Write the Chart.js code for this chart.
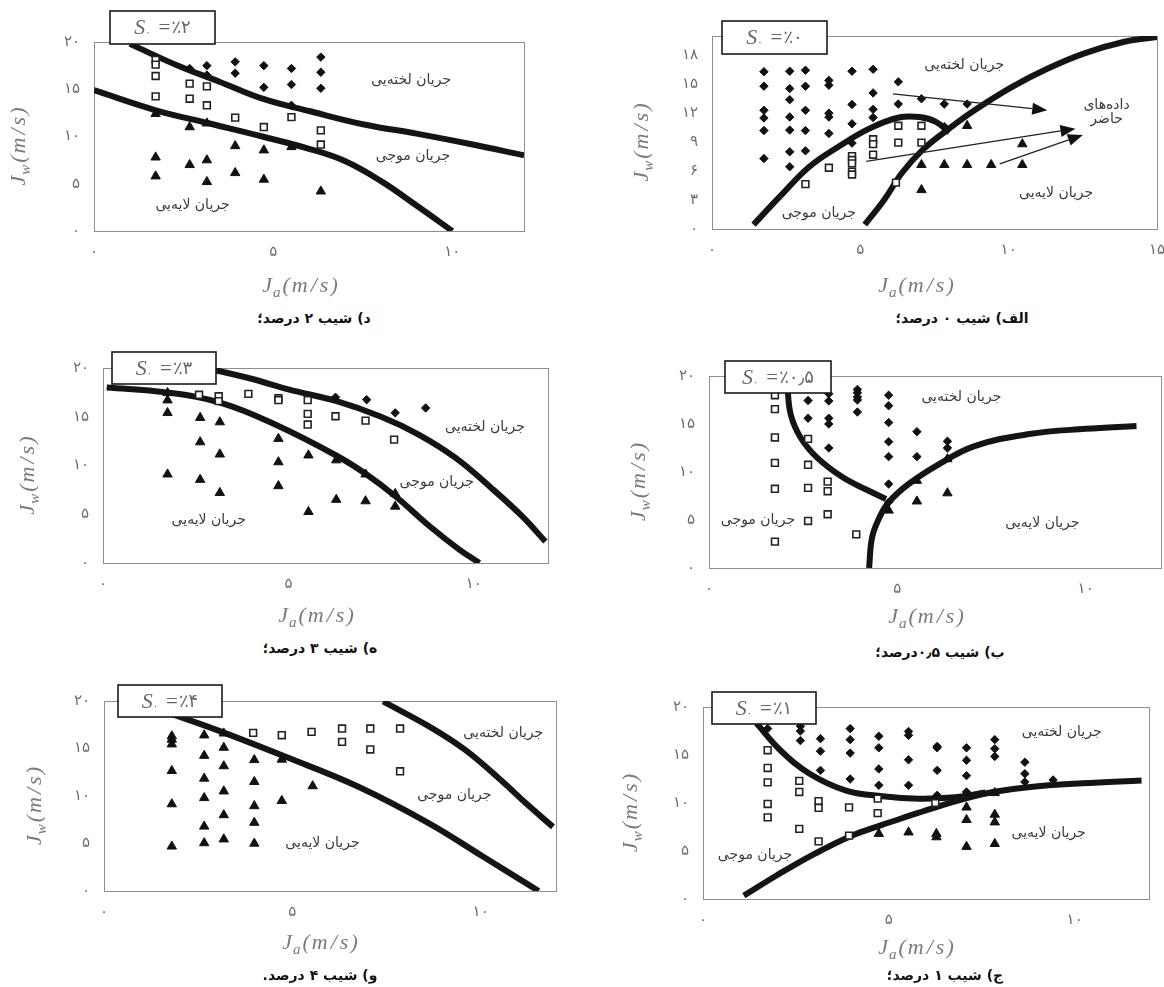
<!DOCTYPE html>
<html>
<head>
<meta charset="utf-8">
<script src="https://cdn.jsdelivr.net/npm/chart.js@4.4.1/dist/chart.umd.min.js"></script>
<style>
  body { margin: 0; background: #fff; width: 1164px; height: 987px; position: relative; overflow: hidden; }
  canvas { position: absolute; }
  .cap { position: absolute; width: 240px; text-align: center; direction: rtl;
         font: bold 14px 'DejaVu Sans', sans-serif; color: #111; line-height: 16px; }
</style>
</head>
<body>
<script>
// ---- data (Ja, Jw in m/s) ----
var xTicks12 = [0, 5, 10];
var xTicks15 = [0, 5, 10, 15];
var yTicks5 = [0, 5, 10, 15, 20];
var yTicks3 = [0, 3, 6, 9, 12, 15, 18];

// الف) slope 0 %
var slugA = [[1.75,16.3],[1.75,14.8],[1.75,12.3],[1.75,11.5],[1.75,10.2],[1.75,7.3],
  [2.62,16.35],[2.62,14.55],[2.62,13.4],[2.62,11.6],[2.62,10.25],[2.62,8.0],[2.62,6.45],
  [3.15,16.45],[3.15,14.8],[3.15,12.3],[3.15,10.2],[3.15,8.1],
  [3.94,15.4],[3.94,14.9],[3.94,12.0],[3.94,11.6],[3.94,9.9],
  [4.72,16.35],[4.72,12.9],[4.72,10.9],[4.72,8.9],
  [5.43,16.55],[5.43,14.1],[5.43,12.4],[5.43,11.55],
  [6.28,15.25],[6.28,12.95],[7.06,13.5],[7.83,12.95],[7.83,10.6],[8.6,12.95]];
var wavyA = [[5.43,9.3],[5.43,8.8],[6.28,10.7],[7.06,10.7],[6.28,8.95],[7.06,8.95],[5.43,7.7],
  [4.72,7.55],[4.72,7.15],[4.72,6.8],[4.72,5.95],[4.72,5.65],[3.94,6.35],[3.15,4.65],[6.2,4.8]];
var stratA = [[8.6,10.7],[10.46,8.8],[7.06,6.65],[7.83,6.65],[8.6,6.65],[9.41,6.65],[10.46,6.65],[7.06,4.05]];
var curveA1 = [[1.4,0.45],[2.3,3.4],[3.3,6.5],[4.3,8.6],[5.3,10.4],[6.3,11.55],[7.0,11.6],[7.55,11.1],[8.0,10.0]];
var curveA2 = [[5.15,0.45],[5.8,3.0],[6.4,5.8],[7.1,8.2],[7.95,10.3],[8.85,12.3],[10.1,14.7],[11.3,16.6],[12.55,18.2],[13.9,19.4],[15,19.9]];
var arrowsA = [[6.1,14.0,11.3,12.3],[5.2,7.0,12.25,10.4],[9.7,6.75,12.5,9.75]];

// ب) slope 0.5 %
var slugB = [[2.63,17.45],[2.63,15.6],[3.18,18.15],[3.18,17.4],[3.18,15.6],[3.18,15.0],[3.18,12.5],
  [3.94,18.6],[3.94,18.25],[3.94,17.8],[3.94,17.5],[3.94,16.25],
  [4.77,18.0],[4.77,16.9],[4.77,15.15],[4.77,13.15],[4.77,11.6],[4.77,8.75],[4.77,6.85],
  [5.52,14.2],[5.52,11.6],[6.33,13.2],[6.33,12.5]];
var wavyB = [[1.75,18.0],[1.75,16.55],[1.75,13.6],[1.75,10.95],[1.75,8.25],[1.75,2.75],
  [2.63,13.45],[2.63,10.75],[2.63,8.35],[2.63,4.9],[3.15,9.0],[3.15,8.0],[3.15,5.6],[3.91,3.5]];
var stratB = [[4.77,6.0],[5.52,9.1],[5.52,6.95],[6.33,11.35],[6.33,7.8]];
var curveB1 = [[2.08,20.2],[2.09,18.6],[2.17,16.0],[2.43,13.6],[2.87,11.5],[3.55,9.45],[4.24,8.05],[4.7,7.2]];
var curveB2 = [[4.25,0],[4.33,3.2],[4.53,5.3],[4.77,6.85],[5.3,8.75],[6.1,10.8],[7.05,12.7],[8.5,13.95],[10.0,14.5],[11.35,14.8]];

// ج) slope 1 %
var slugC = [[1.74,17.75],[2.62,18.0],[2.62,17.5],[2.62,16.5],[3.16,16.7],[3.16,15.4],[3.16,13.4],
  [3.96,17.75],[3.96,16.6],[3.96,15.2],[3.96,12.5],[4.73,16.95],[4.73,15.75],[4.73,13.55],[4.73,11.85],
  [5.53,17.45],[5.53,17.05],[5.53,14.5],[5.53,11.85],[6.3,15.9],[6.3,15.75],[6.3,13.4],[6.3,10.8],
  [7.09,15.75],[7.09,14.45],[7.09,12.85],[7.09,11.15],[7.85,16.6],[7.85,15.65],[7.85,14.85],
  [8.66,14.25],[8.66,13.05],[8.66,12.2],[9.42,12.4]];
var wavyC = [[1.74,15.5],[1.74,13.65],[1.74,12.15],[1.74,9.9],[1.74,8.5],[2.59,12.3],[2.59,11.15],[2.59,7.3],
  [3.11,10.2],[3.11,9.5],[3.11,6.0],[3.93,9.55],[3.93,6.6],[4.7,10.45],[4.7,8.95],[6.25,10.0]];
var stratC = [[4.73,6.8],[5.53,6.95],[6.28,6.8],[6.28,6.45],[7.09,9.55],[7.09,8.25],[7.09,5.45],
  [7.85,11.05],[7.85,8.8],[7.85,8.0],[7.85,5.75]];
var curveC1 = [[1.44,18.3],[2.08,15.5],[2.87,13.05],[3.85,11.3],[4.83,10.7],[5.81,10.45],[6.79,10.6],[7.6,11.1]];
var curveC2 = [[1.1,0.35],[2.0,2.5],[3.0,4.7],[4.0,6.6],[4.8,7.7],[5.5,8.6],[6.3,9.6],[7.1,10.5],[7.8,11.15],[8.75,11.65],[10.2,12.05],[11.8,12.35]];

// د) slope 2 %
var slugD = [[2.67,17.2],[3.15,17.5],[3.15,16.5],[3.94,17.9],[3.94,16.7],[4.74,17.5],[4.74,15.2],
  [5.51,17.2],[5.51,15.5],[5.51,13.3],[6.33,18.4],[6.33,16.8],[6.33,15.1]];
var wavyD = [[1.72,18.1],[1.72,17.6],[1.72,16.4],[1.72,14.25],[2.67,15.6],[2.67,14.0],[3.15,15.3],[3.15,13.3],
  [3.94,12.0],[4.74,11.0],[5.51,12.05],[6.33,10.65],[6.33,9.15]];
var stratD = [[1.72,12.4],[1.72,7.8],[1.72,5.8],[2.67,11.0],[2.67,7.0],[3.15,11.4],[3.15,7.5],[3.15,5.2],
  [3.94,9.0],[3.94,6.15],[4.74,8.55],[4.74,5.45],[5.51,8.9],[6.33,4.2]];
var curveD1 = [[1.0,19.8],[2.4,17.4],[3.5,15.8],[4.7,14.0],[6.0,12.7],[7.5,11.3],[9.0,10.3],[10.5,9.2],[12.0,8.0]];
var curveD2 = [[0,14.9],[1.7,12.8],[3.2,11.4],[4.7,10.0],[6.0,8.7],[7.0,7.4],[8.0,5.3],[9.0,2.7],[10.0,0]];

// ه) slope 3 %
var slugE = [[6.27,17.0],[7.11,16.75],[7.88,15.4],[8.7,15.9]];
var wavyE = [[2.59,17.25],[3.12,17.1],[3.12,16.6],[3.92,17.35],[4.73,16.9],[4.73,16.7],[5.52,16.7],[5.52,15.3],[5.52,14.2],
  [6.27,15.05],[7.08,14.6],[7.85,12.65]];
var stratE = [[1.74,17.45],[1.74,16.7],[1.74,15.4],[1.74,9.1],[2.62,14.9],[2.62,12.4],[2.62,8.55],
  [3.15,14.45],[3.15,11.15],[3.15,7.2],[4.73,12.75],[4.73,10.35],[4.73,7.9],[5.54,11.05],[5.54,5.25],
  [6.29,10.55],[6.29,6.5],[7.08,9.1],[7.08,6.35],[7.88,7.1],[7.88,5.8]];
var curveE1 = [[0.1,18.0],[1.7,17.5],[3.2,16.4],[4.7,14.1],[6.3,11.0],[7.1,9.1],[7.9,6.8],[8.8,3.8],[9.6,1.4],[10.15,0]];
var curveE2 = [[2.2,20.4],[3.0,19.8],[4.0,18.9],[5.0,17.8],[6.3,16.6],[7.5,15.0],[8.5,13.2],[9.5,10.8],[10.5,7.6],[11.3,4.8],[11.93,2.2]];

// و) slope 4 %
var stratF = [[1.8,16.3],[1.8,15.95],[1.8,15.45],[1.8,12.65],[1.8,9.15],[1.8,4.7],
  [2.66,16.4],[2.66,14.25],[2.66,11.85],[2.66,9.8],[2.66,6.8],[2.66,5.05],
  [3.18,16.6],[3.18,15.1],[3.18,13.15],[3.18,10.5],[3.18,8.0],[3.18,5.45],
  [3.99,13.8],[3.99,11.5],[3.99,8.95],[3.99,7.2],[3.99,5.0],[4.72,13.85],[4.72,9.5],[5.54,11.05]];
var wavyF = [[3.96,16.65],[4.72,16.4],[5.51,16.75],[6.32,17.1],[7.07,17.1],[7.86,17.1],[6.32,15.7],[7.07,14.9],[7.86,12.6]];
var slugF = [];
var curveF1 = [[1.5,19.0],[2.04,18.3],[3.13,16.75],[4.84,14.1],[6.74,11.0],[8.64,7.1],[10.07,3.6],[11.54,0]];
var curveF2 = [[7.41,19.95],[8.64,17.3],[9.59,14.85],[10.54,11.65],[11.21,9.2],[11.92,6.75]];

var SLUG = 'جریان لخته\u200Cیی', WAVY = 'جریان موجی', STRAT = 'جریان لایه\u200Cیی';
var labelsA = [[SLUG,8.5,17.0],[WAVY,3.6,1.65],[STRAT,11.6,3.7],['داده\u200Cهای',13.3,12.8],['حاضر',13.3,11.4]];
var labelsB = [[SLUG,6.7,17.75],[WAVY,1.3,4.95],[STRAT,8.85,4.65]];
var labelsC = [[SLUG,9.65,17.4],[WAVY,1.4,4.5],[STRAT,9.3,6.8]];
var labelsD = [[SLUG,8.85,15.95],[WAVY,8.9,7.85],[STRAT,2.75,2.7]];
var labelsE = [[SLUG,10.3,13.95],[WAVY,9.0,8.3],[STRAT,2.85,4.4]];
var labelsF = [[SLUG,10.6,16.6],[WAVY,9.3,10.1],[STRAT,5.8,5.05]];

// ---- layout of the six panels (page px) ----
var PAD_L = 86, PAD_T = 36, PAD_R = 24, PAD_B = 70;
var panels = [
  { area:[712,36,1157,229], xMax:15, xTicks:xTicks15, yTicks:yTicks3, slope:'۰', box:[10,-15,105,33],
    slug:slugA, wavy:wavyA, strat:stratA, curves:[curveA1,curveA2], labels:labelsA, arrows:arrowsA,
    jw:-71, ja:[916,56], cap:[962,89,'الف) شیب ۰ درصد؛'] },
  { area:[709,376,1161,568], xMax:12, xTicks:xTicks12, yTicks:yTicks5, slope:'۰٫۵', box:[16,-15,106,32],
    slug:slugB, wavy:wavyB, strat:stratB, curves:[curveB1,curveB2], labels:labelsB,
    jw:-71, ja:[926,48], cap:[940,84,'ب) شیب ۰٫۵درصد؛'] },
  { area:[703,707,1149,899], xMax:12, xTicks:xTicks12, yTicks:yTicks5, slope:'۱', box:[9,-15,104,32],
    slug:slugC, wavy:wavyC, strat:stratC, curves:[curveC1,curveC2], labels:labelsC,
    jw:-73, ja:[916,48], cap:[945,76,'ج) شیب ۱ درصد؛'] },
  { area:[94,42,524,231], xMax:12, xTicks:xTicks12, yTicks:yTicks5, slope:'۲', box:[16,-31,105,33],
    slug:slugD, wavy:wavyD, strat:stratD, curves:[curveD1,curveD2], labels:labelsD,
    jw:-76, ja:[300,54], cap:[314,87,'د) شیب ۲ درصد؛'] },
  { area:[103,368,548,563], xMax:12, xTicks:xTicks12, yTicks:yTicks5, slope:'۳', box:[9,-16,104,32],
    slug:slugE, wavy:wavyE, strat:stratE, curves:[curveE1,curveE2], labels:labelsE,
    jw:-76, ja:[316,52], cap:[320,85,'ه) شیب ۳ درصد؛'] },
  { area:[104,701,556,891], xMax:12, xTicks:xTicks12, yTicks:yTicks5, slope:'۴', box:[14,-16,104,32],
    slug:slugF, wavy:wavyF, strat:stratF, curves:[curveF1,curveF2], labels:labelsF,
    jw:-70, ja:[320,51], cap:[320,84,'و) شیب ۴ درصد.'] }
];

var DIG = '۰۱۲۳۴۵۶۷۸۹';
function fa(v) { return String(v).replace(/\d/g, function (d) { return DIG[d]; }); }
function pts(arr) { return arr.map(function (p) { return { x: p[0], y: p[1] }; }); }

// draw a run of [text, font, dy, gap] pieces starting at x
function drawPieces(ctx, pieces, x, y) {
  pieces.forEach(function (p) {
    ctx.font = p[1];
    ctx.fillText(p[0], x, y + (p[2] || 0));
    x += ctx.measureText(p[0]).width + (p[3] || 0);
  });
}
function piecesWidth(ctx, pieces) {
  var w = 0;
  pieces.forEach(function (p) { ctx.font = p[1]; w += ctx.measureText(p[0]).width + (p[3] || 0); });
  return w;
}
function axisTitle(sub) {
  var f = 'italic 22px "Liberation Serif", serif';
  return [['J', f, 0, 1], [sub, 'italic 15px "Liberation Serif", serif', 5, 2], ['(', f, 0, 2], ['m', f, 0, 3], ['/', f, 0, 3], ['s', f, 0, 2], [')', f]];
}

var decor = {
  id: 'decor',
  beforeDatasetsDraw: function (chart) {
    var a = chart.chartArea, ctx = chart.ctx;
    ctx.save();
    ctx.strokeStyle = '#8e8e8e';
    ctx.lineWidth = 1;
    ctx.strokeRect(Math.round(a.left) + 0.5, Math.round(a.top) + 0.5, Math.round(a.right - a.left), Math.round(a.bottom - a.top));
    ctx.restore();
  },
  afterDatasetsDraw: function (chart) {
    var p = chart.canvas.$panel, ctx = chart.ctx, a = chart.chartArea;
    if (!p) return;
    var xs = chart.scales.x, ys = chart.scales.y;
    ctx.save();
    // region labels
    ctx.fillStyle = '#3a3a3a';
    ctx.font = '14px "DejaVu Sans", sans-serif';
    ctx.textAlign = 'center';
    ctx.textBaseline = 'middle';
    ctx.direction = 'rtl';
    p.labels.forEach(function (l) {
      ctx.fillText(l[0], xs.getPixelForValue(l[1]), ys.getPixelForValue(l[2]));
    });
    ctx.direction = 'ltr';
    // arrows
    (p.arrows || []).forEach(function (r) {
      var x1 = xs.getPixelForValue(r[0]), y1 = ys.getPixelForValue(r[1]);
      var x2 = xs.getPixelForValue(r[2]), y2 = ys.getPixelForValue(r[3]);
      var ang = Math.atan2(y2 - y1, x2 - x1), hl = 15, hw = 6;
      ctx.strokeStyle = '#222';
      ctx.lineWidth = 1.3;
      ctx.beginPath();
      ctx.moveTo(x1, y1);
      ctx.lineTo(x2 - hl * Math.cos(ang), y2 - hl * Math.sin(ang));
      ctx.stroke();
      ctx.fillStyle = '#111';
      ctx.beginPath();
      ctx.moveTo(x2, y2);
      ctx.lineTo(x2 - hl * Math.cos(ang) + hw * Math.sin(ang), y2 - hl * Math.sin(ang) - hw * Math.cos(ang));
      ctx.lineTo(x2 - hl * Math.cos(ang) - hw * Math.sin(ang), y2 - hl * Math.sin(ang) + hw * Math.cos(ang));
      ctx.closePath();
      ctx.fill();
    });
    // slope box
    var bx = a.left + p.box[0], by = a.top + p.box[1], bw = p.box[2], bh = p.box[3];
    ctx.fillStyle = '#fff';
    ctx.fillRect(bx, by, bw, bh);
    ctx.strokeStyle = '#1a1a1a';
    ctx.lineWidth = 1.6;
    ctx.strokeRect(bx, by, bw, bh);
    var sf = 'italic 22px "Liberation Serif", serif';
    var box = [['S', sf, 0, 0], ['۰', '10px "DejaVu Sans", sans-serif', 4, 8], ['=', '21px "Liberation Serif", serif', 0, 1],
      ['٪' + p.slope, '18px "DejaVu Sans", sans-serif']];
    ctx.fillStyle = '#666';
    ctx.textAlign = 'left';
    ctx.textBaseline = 'middle';
    drawPieces(ctx, box, bx + (bw - piecesWidth(ctx, box)) / 2, by + bh / 2 + 1);
    // axis titles
    ctx.fillStyle = '#7a7a7a';
    ctx.textBaseline = 'alphabetic';
    var ja = axisTitle('a');
    var ox = chart.canvas.offsetLeft;
    drawPieces(ctx, ja, p.ja[0] - ox - piecesWidth(ctx, ja) / 2, a.bottom + p.ja[1] + 7);
    var jw = axisTitle('w');
    ctx.translate(a.left + p.jw + 7, (a.top + a.bottom) / 2 + 10);
    ctx.rotate(-Math.PI / 2);
    drawPieces(ctx, jw, -piecesWidth(ctx, jw) / 2, 0);
    ctx.restore();
  }
};

panels.forEach(function (p) {
  var L = p.area[0], T = p.area[1], R = p.area[2], B = p.area[3];
  var cv = document.createElement('canvas');
  cv.width = R - L + PAD_L + PAD_R;
  cv.height = B - T + PAD_T + PAD_B;
  cv.style.left = (L - PAD_L) + 'px';
  cv.style.top = (T - PAD_T) + 'px';
  cv.$panel = p;
  document.body.appendChild(cv);

  var cap = document.createElement('div');
  cap.className = 'cap';
  cap.textContent = p.cap[2];
  cap.style.left = (p.cap[0] - 120) + 'px';
  cap.style.top = (B + p.cap[1] - 8) + 'px';
  document.body.appendChild(cap);

  var tickFont = { family: 'DejaVu Sans', size: 15 };
  new Chart(cv, {
    type: 'scatter',
    data: {
      datasets: [
        { data: pts(p.slug), pointStyle: 'rectRot', pointRadius: 4.2, backgroundColor: '#111', borderColor: '#111', borderWidth: 1 },
        { data: pts(p.wavy), pointStyle: 'rect', pointRadius: 4.8, backgroundColor: '#fff', borderColor: '#222', borderWidth: 1.6 },
        { data: pts(p.strat), pointStyle: 'triangle', pointRadius: 5.4, backgroundColor: '#111', borderColor: '#111', borderWidth: 1 }
      ].concat(p.curves.map(function (c) {
        return { data: pts(c), showLine: true, pointRadius: 0, borderColor: '#141414', borderWidth: 6, tension: 0.4 };
      }))
    },
    options: {
      responsive: false,
      animation: false,
      events: [],
      layout: { padding: { top: PAD_T, right: PAD_R, left: 0, bottom: 0 } },
      plugins: { legend: { display: false }, tooltip: { enabled: false } },
      scales: {
        x: {
          type: 'linear', min: 0, max: p.xMax,
          afterBuildTicks: function (s) { s.ticks = p.xTicks.map(function (v) { return { value: v }; }); },
          afterFit: function (s) { s.height = PAD_B; },
          grid: { display: false, drawTicks: false },
          border: { display: false },
          ticks: { padding: 12, color: '#6c6c6c', font: tickFont, maxRotation: 0, autoSkip: false, callback: function (v) { return fa(v); } }
        },
        y: {
          type: 'linear', min: 0, max: 20,
          afterBuildTicks: function (s) { s.ticks = p.yTicks.map(function (v) { return { value: v }; }); },
          afterFit: function (s) { s.width = PAD_L; },
          grid: { display: false, drawTicks: false },
          border: { display: false },
          ticks: { padding: 14, color: '#6c6c6c', font: tickFont, autoSkip: false, callback: function (v) { return fa(v); } }
        }
      }
    },
    plugins: [decor]
  });
});
</script>
</body>
</html>
